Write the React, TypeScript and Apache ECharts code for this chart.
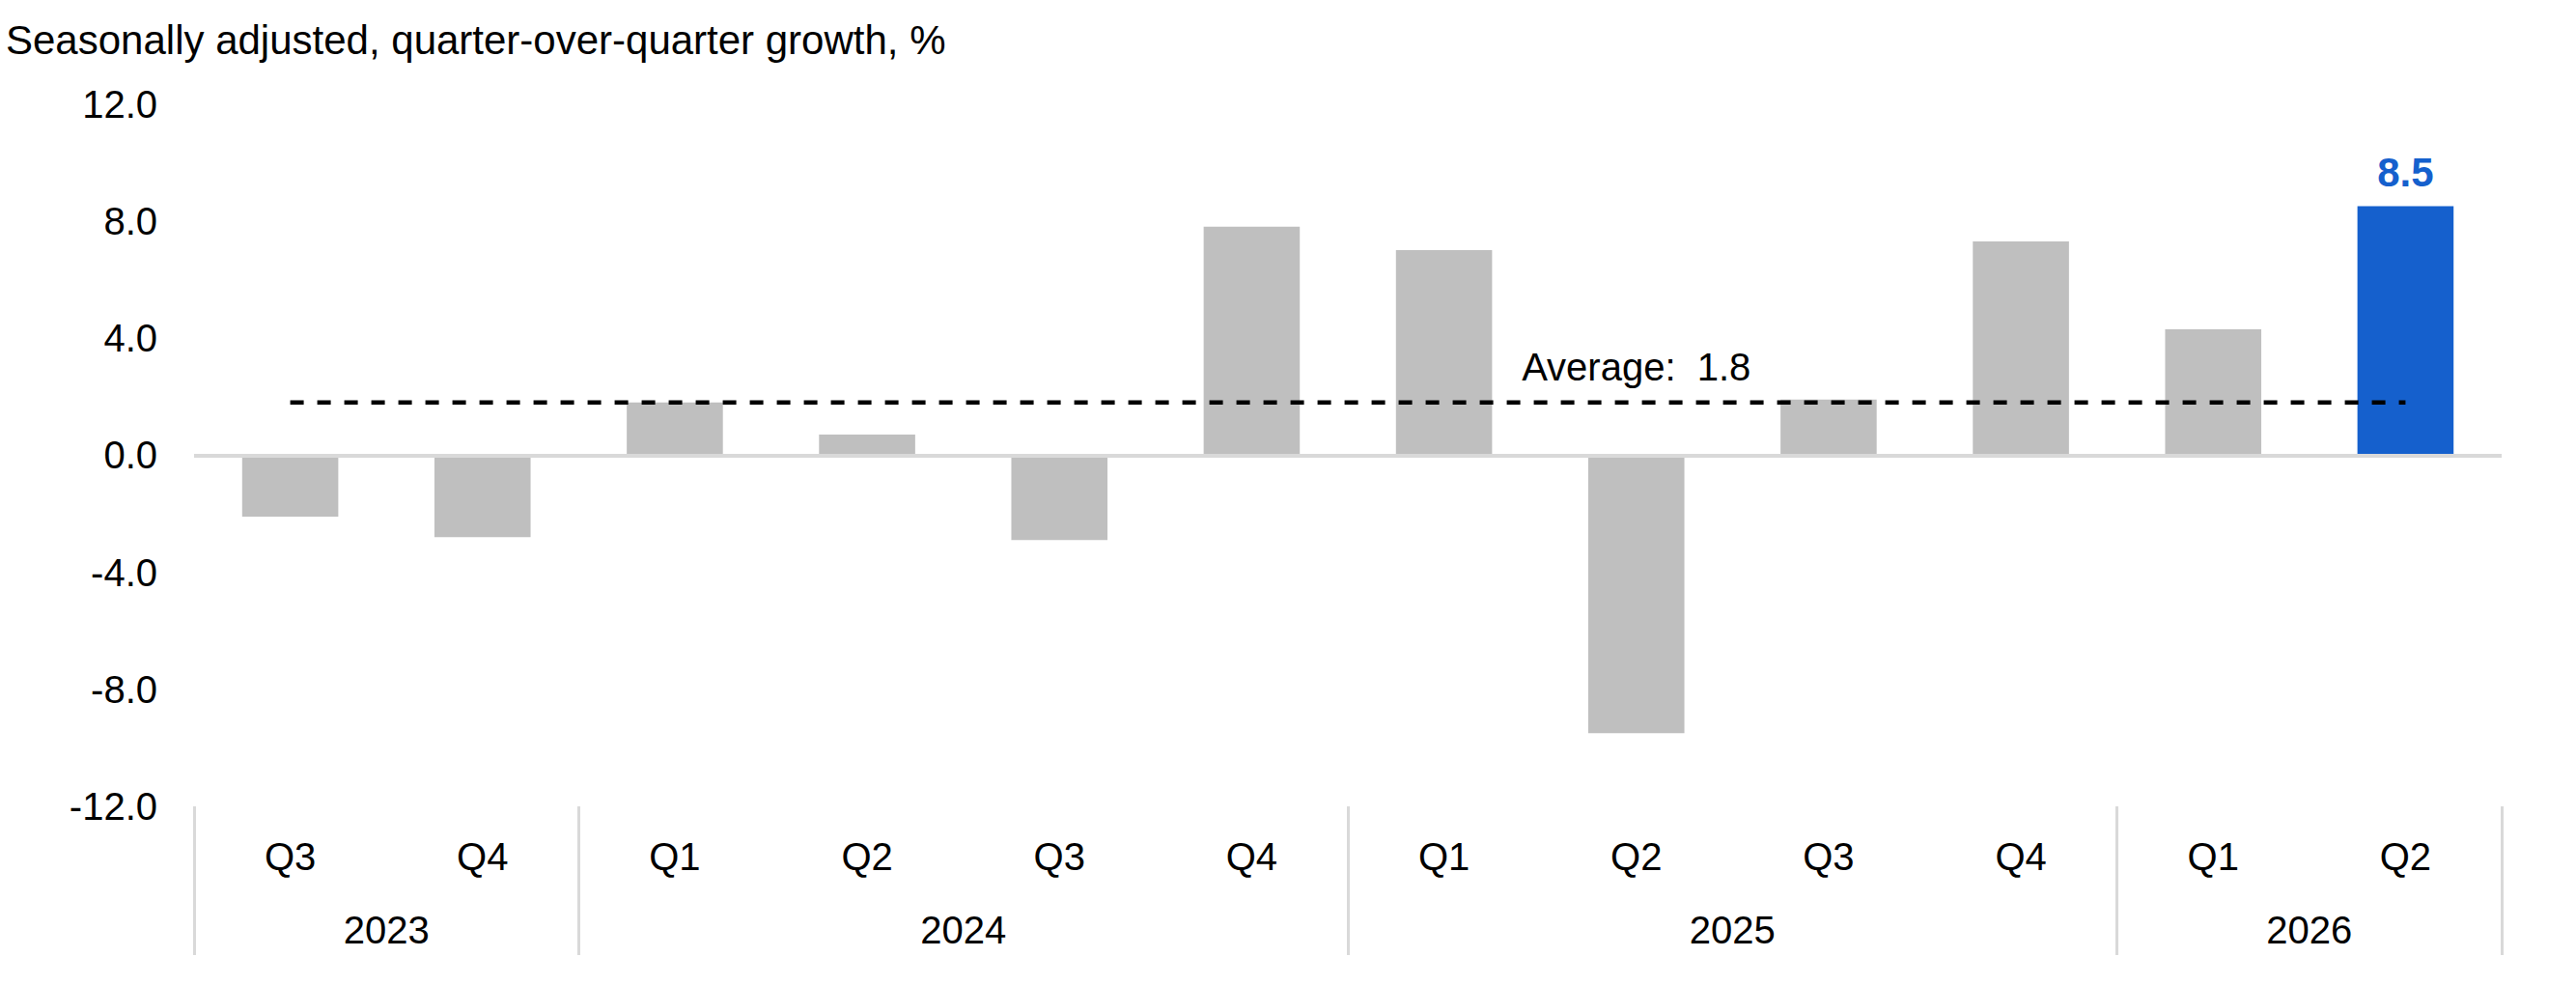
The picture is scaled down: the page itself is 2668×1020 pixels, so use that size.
import React, { useEffect, useRef } from 'react';
import * as echarts from 'echarts';

// ---- data ----
const quarters = ['Q3', 'Q4', 'Q1', 'Q2', 'Q3', 'Q4', 'Q1', 'Q2', 'Q3', 'Q4', 'Q1', 'Q2'];
const quarterYears = ['2023', '2023', '2024', '2024', '2024', '2024', '2025', '2025', '2025', '2025', '2026', '2026'];
const growth = [-2.1, -2.8, 1.8, 0.7, -2.9, 7.8, 7.0, -9.5, 1.9, 7.3, 4.3, 8.5];
const years = ['2023', '2024', '2025', '2026'];
const yearCentres = [1, 4, 8, 11];
const yearBoundaries = [0, 2, 6, 10, 12];
const average = 1.8;
const averageLabelIndex = 7;
const titleText = 'Seasonally adjusted, quarter-over-quarter growth, %';

const FONT = "'Liberation Sans', Arial, Helvetica, sans-serif";
const GRAY = '#BFBFBF';
const BLUE = '#1560CD';
const AXIS_GRAY = '#D9D9D9';

export default function App() {
  const ref = useRef<HTMLDivElement>(null);

  useEffect(() => {
    document.body.style.margin = '0';
    if (!ref.current) return;
    const chart = echarts.init(ref.current, null, { renderer: 'svg' });
    const categories = quarters.map((q, i) => `${quarterYears[i]} ${q}`);
    const highlightIndex = growth.length - 1;

    chart.setOption({
      animation: false,
      backgroundColor: '#fff',
      textStyle: { fontFamily: FONT },
      title: {
        text: titleText,
        left: 6,
        top: 20,
        padding: 0,
        textStyle: { fontFamily: FONT, fontSize: 42, fontWeight: 'normal', color: '#000' },
      },
      grid: {
        left: 201,
        right: 77,
        top: 107.5,
        bottom: 185,
        containLabel: false,
        outerBoundsMode: 'none',
      },
      xAxis: [
        {
          type: 'category',
          data: categories,
          position: 'bottom',
          axisLine: { show: false, onZero: false },
          axisTick: { show: false },
          splitLine: { show: false },
          axisLabel: {
            interval: 0,
            margin: 32,
            fontSize: 40,
            color: '#000',
            fontFamily: FONT,
            formatter: (v: string) => v.split(' ')[1],
          },
        },
        {
          type: 'value',
          position: 'bottom',
          min: 0,
          max: 12,
          axisLine: { show: false, onZero: false },
          splitLine: { show: false },
          axisTick: {
            show: true,
            customValues: yearBoundaries,
            length: 154,
            lineStyle: { color: AXIS_GRAY, width: 3 },
          },
          axisLabel: {
            show: true,
            customValues: yearCentres,
            margin: 108,
            fontSize: 40,
            color: '#000',
            fontFamily: FONT,
            formatter: (v: number) => years[yearCentres.indexOf(v)] ?? '',
          },
        },
      ],
      yAxis: {
        type: 'value',
        min: -12,
        max: 12,
        interval: 4,
        axisLine: { show: false },
        axisTick: { show: false },
        splitLine: { show: false },
        axisLabel: {
          margin: 38,
          fontSize: 40,
          color: '#000',
          fontFamily: FONT,
          formatter: (v: number) => v.toFixed(1),
        },
      },
      series: [
        {
          type: 'bar',
          xAxisIndex: 0,
          barWidth: '50%',
          itemStyle: { color: GRAY },
          data: growth.map((v, i) =>
            i === highlightIndex
              ? {
                  value: v,
                  itemStyle: { color: BLUE },
                  label: {
                    show: true,
                    position: 'top',
                    distance: 14,
                    color: BLUE,
                    fontSize: 42,
                    fontWeight: 'bold',
                    fontFamily: FONT,
                    formatter: (p: any) => Number(p.value).toFixed(1),
                  },
                }
              : v
          ),
          markLine: {
            silent: true,
            symbol: ['none', 'none'],
            label: { show: false },
            lineStyle: { color: AXIS_GRAY, width: 4, type: 'solid' },
            data: [{ yAxis: 0 }],
          },
        },
        {
          type: 'line',
          xAxisIndex: 0,
          symbol: 'circle',
          symbolSize: 0,
          showSymbol: true,
          silent: true,
          itemStyle: { color: '#000' },
          lineStyle: { color: '#000', width: 4.5, type: [14, 14] },
          z: 5,
          data: growth.map((_, i) =>
            i === averageLabelIndex
              ? {
                  value: average,
                  label: {
                    show: true,
                    position: 'top',
                    distance: 17,
                    color: '#000',
                    fontSize: 40,
                    fontFamily: FONT,
                    formatter: () => `Average:  ${average.toFixed(1)}`,
                  },
                }
              : average
          ),
        },
      ],
    });

    return () => chart.dispose();
  }, []);

  return (
    <div
      ref={ref}
      style={{ position: 'absolute', left: 0, top: 0, width: 2668, height: 1020 }}
    />
  );
}
